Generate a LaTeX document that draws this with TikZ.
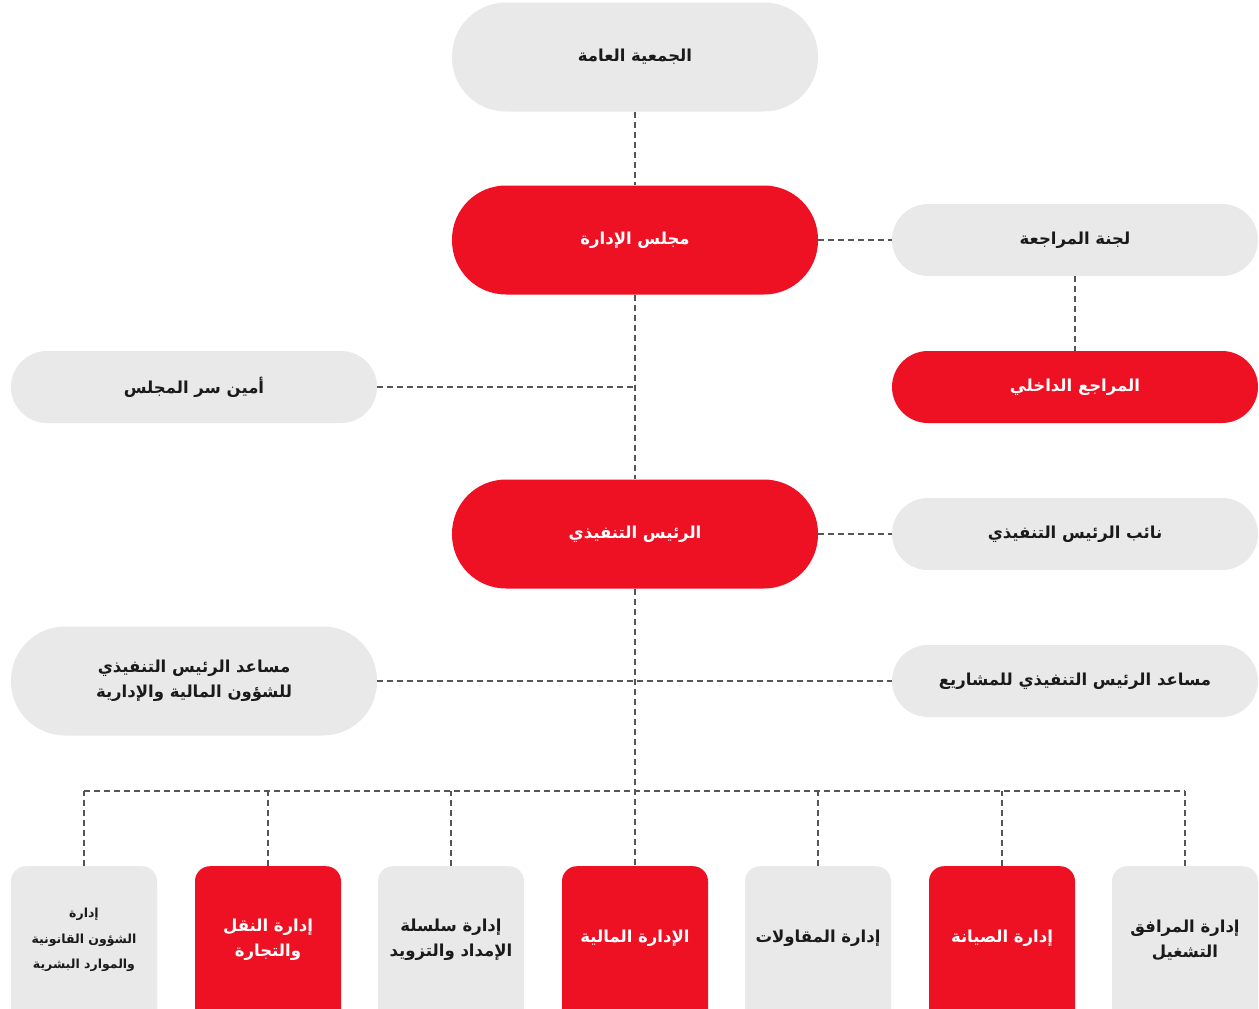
\documentclass[tikz,border=0pt]{standalone}
\usepackage{fontspec}
\newfontfamily\arabicfont[Script=Arabic]{DejaVu Sans}
\TeXXeTstate=1
\definecolor{boxgray}{HTML}{E9E9E9}
\definecolor{boxred}{HTML}{EE1124}
\definecolor{txtdark}{HTML}{1A1A1A}
\definecolor{linegray}{HTML}{555555}
\newcommand{\ar}[1]{\beginR #1\endR}
\begin{document}
\begin{tikzpicture}[x=1pt,y=-1pt,
  base/.style={inner sep=0pt, align=center, font=\arabicfont\bfseries\fontsize{16.5}{25}\selectfont},
  pillbig/.style={base, rounded corners=54pt, minimum width=366pt, minimum height=109pt},
  pillsmall/.style={base, rounded corners=36pt, minimum width=366pt, minimum height=72pt},
  dept/.style={inner sep=0pt, anchor=north, rounded corners=15pt, minimum width=146pt, minimum height=175pt},
  grayf/.style={fill=boxgray, text=txtdark},
  redf/.style={fill=boxred, text=white},
  conn/.style={draw=linegray, line width=1.8pt, dash pattern=on 6pt off 4pt}
]
\useasboundingbox (0,0) rectangle (1259,1009);
\begin{scope}
\clip (0,0) rectangle (1259,1009);
% top levels
\node[pillbig,grayf] (ga) at (635,57) {\ar{الجمعية العامة}};
\node[pillbig,redf] (board) at (635,240) {\ar{مجلس الإدارة}};
\node[pillsmall,grayf] (audit) at (1075,240) {\ar{لجنة المراجعة}};
\node[pillsmall,redf] (internal) at (1075,387) {\ar{المراجع الداخلي}};
\node[pillsmall,grayf] (secr) at (194,387) {\ar{أمين سر المجلس}};
\node[pillbig,redf] (ceo) at (635,534) {\ar{الرئيس التنفيذي}};
\node[pillsmall,grayf] (vice) at (1075,534) {\ar{نائب الرئيس التنفيذي}};
\node[pillbig,grayf] (asst1) at (194,681) {\ar{مساعد الرئيس التنفيذي}\\\ar{للشؤون المالية والإدارية}};
\node[pillsmall,grayf] (asst2) at (1075,681) {\ar{مساعد الرئيس التنفيذي للمشاريع}};
% department boxes
\node[dept,grayf] (d1) at (84,866) {};
\node[dept,redf] (d2) at (268,866) {};
\node[dept,grayf] (d3) at (451,866) {};
\node[dept,redf] (d4) at (635,866) {};
\node[dept,grayf] (d5) at (818,866) {};
\node[dept,redf] (d6) at (1002,866) {};
\node[dept,grayf] (d7) at (1185,866) {};
% department labels
\node[base,text=txtdark,font=\arabicfont\bfseries\fontsize{12.5}{25.5}\selectfont] (t1) at (84,940) {\ar{إدارة}\\\ar{الشؤون القانونية}\\\ar{والموارد البشرية}};
\node[base,text=white] (t2) at (268,940) {\ar{إدارة النقل}\\\ar{والتجارة}};
\node[base,text=txtdark] (t3) at (451,940) {\ar{إدارة سلسلة}\\\ar{الإمداد والتزويد}};
\node[base,text=white] (t4) at (635,938) {\ar{الإدارة المالية}};
\node[base,text=txtdark] (t5) at (818,938) {\ar{إدارة المقاولات}};
\node[base,text=white] (t6) at (1002,938) {\ar{إدارة الصيانة}};
\node[base,text=txtdark] (t7) at (1185,940) {\ar{إدارة المرافق}\\\ar{التشغيل}};
\end{scope}
% junctions
\coordinate (jsec) at (635,387);
\coordinate (jbar) at (635,791);
\coordinate (jl) at (84,791);
\coordinate (jr) at (1185,791);
% connectors
\draw[conn] (ga) -- (board);
\draw[conn] (board) -- (audit);
\draw[conn] (audit) -- (internal);
\draw[conn] (board) -- (ceo);
\draw[conn] (secr) -- (jsec);
\draw[conn] (ceo) -- (vice);
\draw[conn] (ceo) -- (d4);
\draw[conn] (asst1) -- (asst2);
\draw[conn] (jl) -- (jr);
\foreach \d in {d1,d2,d3,d5,d6,d7} {
  \draw[conn] (\d.north) -- (\d.north |- jbar);
}
\end{tikzpicture}
\end{document}
